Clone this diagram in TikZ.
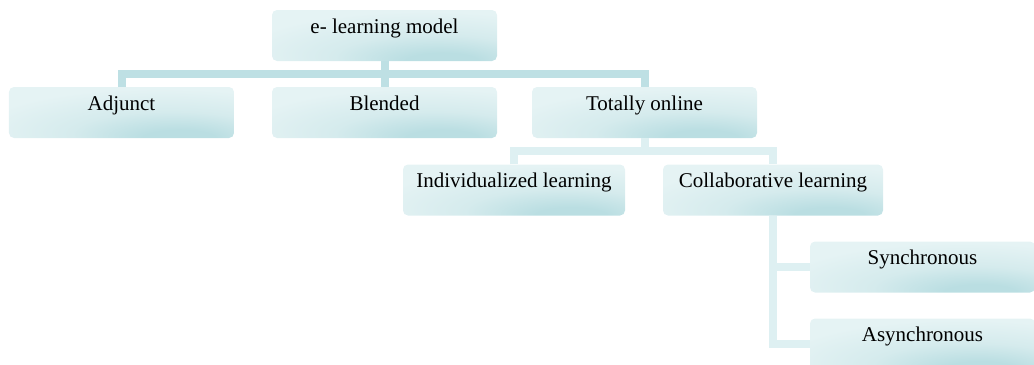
\documentclass[tikz,border=0pt]{standalone}
\usepackage{fontspec}
\setmainfont{Liberation Serif}
\definecolor{boxlight}{RGB}{229,243,244}
\definecolor{boxmid}{RGB}{213,235,237}
\definecolor{boxdark}{RGB}{186,222,226}
\definecolor{connA}{RGB}{190,224,228}
\definecolor{connB}{RGB}{222,240,242}
\pgfdeclareradialshading{boxglow}{\pgfpoint{14bp}{-27bp}}{%
  color(0bp)=(boxdark); color(8bp)=(boxdark); color(22bp)=(boxmid);
  color(40bp)=(boxlight); color(100bp)=(boxlight)}
\tikzset{
  box/.style={rectangle, rounded corners=5bp, minimum width=225bp, minimum height=51bp,
    inner xsep=0pt, inner ysep=0pt, text height=23bp, text depth=28bp,
    shade, shading=boxglow,
    font=\fontsize{21bp}{24bp}\selectfont},
  linkA/.style={draw=connA, line width=8bp, line join=miter},
  linkB/.style={draw=connB, line width=8bp, line join=miter}
}
\begin{document}
\begin{tikzpicture}[x=1bp,y=-1bp]
\useasboundingbox (0,0) rectangle (1034,364);
\begin{scope}
\clip (0,0) rectangle (1034,364);
\node[box] (top) at (384.5,35.5) {e- learning model};
\node[box] (adj) at (121.5,112.5) {Adjunct};
\node[box] (blend) at (384.5,112.5) {Blended};
\node[box] (online) at (644.5,112.5) {Totally online};
\node[box, minimum width=222bp] (indiv) at (514,190) {Individualized learning};
\node[box, minimum width=220bp] (collab) at (773,190) {Collaborative learning};
\node[box] (synch) at (922.5,267) {Synchronous};
\node[box] (async) at (922.5,344) {Asynchronous};

\draw[linkA] (top.south) -- (blend.north);
\draw[linkA] (adj.north) -- ++(0,-13) -| (online.north);
\draw[linkB] (online.south) -- ++(0,14);
\draw[linkB] (indiv.north) -- ++(0,-13) -| (collab.north);
\draw[linkB] (collab.south) |- (async.west);
\draw[linkB] (collab.south |- synch.west) -- (synch.west);
\end{scope}
\end{tikzpicture}
\end{document}
